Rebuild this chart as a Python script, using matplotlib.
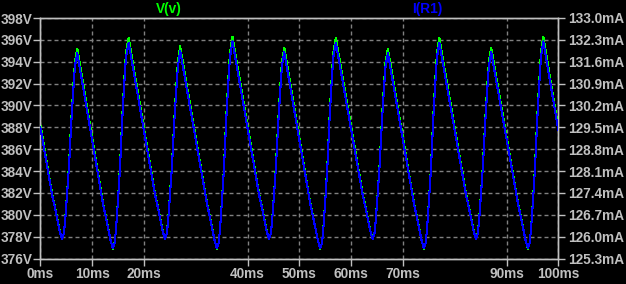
import matplotlib
matplotlib.use("Agg")
import matplotlib.pyplot as plt

# ---- data ----
time_ms = [
    0.0,
    2.29, 2.79, 3.34, 3.74, 4.19, 4.54, 4.79, 5.14, 5.54, 5.99, 6.39, 6.69, 7.14,
    12.13, 12.63, 13.18, 13.58, 14.03, 14.38, 14.63, 14.98, 15.38, 15.83, 16.23, 16.53, 17.05,
    22.17, 22.67, 23.22, 23.62, 24.07, 24.42, 24.67, 25.02, 25.42, 25.87, 26.27, 26.57, 27.0,
    32.21, 32.71, 33.26, 33.66, 34.11, 34.46, 34.71, 35.06, 35.46, 35.91, 36.31, 36.61, 37.1,
    42.25, 42.75, 43.3, 43.7, 44.15, 44.5, 44.75, 45.1, 45.5, 45.95, 46.35, 46.65, 47.1,
    52.15, 52.65, 53.2, 53.6, 54.05, 54.4, 54.65, 55.0, 55.4, 55.85, 56.25, 56.55, 57.05,
    62.25, 62.75, 63.3, 63.7, 64.15, 64.5, 64.75, 65.1, 65.5, 65.95, 66.35, 66.65, 67.1,
    72.17, 72.67, 73.22, 73.62, 74.07, 74.42, 74.67, 75.02, 75.42, 75.87, 76.27, 76.57, 77.02,
    82.2, 82.7, 83.25, 83.65, 84.1, 84.45, 84.7, 85.05, 85.45, 85.9, 86.3, 86.6, 87.05,
    92.25, 92.75, 93.3, 93.7, 94.15, 94.5, 94.75, 95.1, 95.5, 95.95, 96.35, 96.65, 97.1,
    100.0,
]

v_volts = [
    388.3,
    381.9, 380.8, 379.5, 378.55, 377.8, 378.3, 379.5, 381.8, 384.6, 388.8, 391.9, 394.0, 395.2,
    381.0, 379.9, 378.6, 377.65, 376.9, 377.5, 378.8, 381.3, 384.4, 389.1, 392.5, 394.8, 396.2,
    381.9, 380.8, 379.5, 378.55, 377.8, 378.3, 379.5, 381.8, 384.6, 388.8, 391.9, 394.0, 395.4,
    381.0, 379.9, 378.6, 377.65, 376.9, 377.5, 378.8, 381.3, 384.4, 389.1, 392.5, 394.8, 396.3,
    381.9, 380.8, 379.5, 378.55, 377.8, 378.3, 379.5, 381.8, 384.6, 388.8, 391.9, 394.0, 395.3,
    381.0, 379.9, 378.6, 377.65, 376.9, 377.5, 378.8, 381.3, 384.4, 389.1, 392.5, 394.8, 396.2,
    381.9, 380.8, 379.5, 378.55, 377.8, 378.3, 379.5, 381.8, 384.6, 388.8, 391.9, 394.0, 395.2,
    381.0, 379.9, 378.6, 377.65, 376.9, 377.5, 378.8, 381.3, 384.4, 389.1, 392.5, 394.8, 396.2,
    381.9, 380.8, 379.5, 378.55, 377.8, 378.3, 379.5, 381.8, 384.6, 388.8, 391.9, 394.0, 395.3,
    381.0, 379.9, 378.6, 377.65, 376.9, 377.5, 378.8, 381.3, 384.4, 389.1, 392.5, 394.8, 396.3,
    388.0,
]

i_ma = [
    129.51,
    127.32, 126.95, 126.50, 126.18, 125.92, 126.09, 126.50, 127.29, 128.25, 129.68, 130.74, 131.46, 131.87,
    127.02, 126.64, 126.20, 125.87, 125.62, 125.82, 126.27, 127.12, 128.18, 129.79, 130.95, 131.73, 132.21,
    127.32, 126.95, 126.50, 126.18, 125.92, 126.09, 126.50, 127.29, 128.25, 129.68, 130.74, 131.46, 131.94,
    127.02, 126.64, 126.20, 125.87, 125.62, 125.82, 126.27, 127.12, 128.18, 129.79, 130.95, 131.73, 132.25,
    127.32, 126.95, 126.50, 126.18, 125.92, 126.09, 126.50, 127.29, 128.25, 129.68, 130.74, 131.46, 131.90,
    127.02, 126.64, 126.20, 125.87, 125.62, 125.82, 126.27, 127.12, 128.18, 129.79, 130.95, 131.73, 132.21,
    127.32, 126.95, 126.50, 126.18, 125.92, 126.09, 126.50, 127.29, 128.25, 129.68, 130.74, 131.46, 131.87,
    127.02, 126.64, 126.20, 125.87, 125.62, 125.82, 126.27, 127.12, 128.18, 129.79, 130.95, 131.73, 132.21,
    127.32, 126.95, 126.50, 126.18, 125.92, 126.09, 126.50, 127.29, 128.25, 129.68, 130.74, 131.46, 131.90,
    127.02, 126.64, 126.20, 125.87, 125.62, 125.82, 126.27, 127.12, 128.18, 129.79, 130.95, 131.73, 132.25,
    129.41,
]

x_ticks = [0, 10, 20, 40, 50, 60, 70, 90, 100]
x_tick_labels = ["0ms", "10ms", "20ms", "40ms", "50ms", "60ms", "70ms", "90ms", "100ms"]
v_ticks = [376, 378, 380, 382, 384, 386, 388, 390, 392, 394, 396, 398]
v_tick_labels = ["376V", "378V", "380V", "382V", "384V", "386V", "388V", "390V",
                 "392V", "394V", "396V", "398V"]
i_ticks = [125.3, 126.0, 126.7, 127.4, 128.1, 128.8, 129.5, 130.2, 130.9, 131.6, 132.3, 133.0]
i_tick_labels = ["125.3mA", "126.0mA", "126.7mA", "127.4mA", "128.1mA", "128.8mA",
                 "129.5mA", "130.2mA", "130.9mA", "131.6mA", "132.3mA", "133.0mA"]

# ---- style ----
W, H = 626, 284
DPI = 100
FG = "#c0c0c0"
GRID = "#808080"
GREEN = "#00ff00"
BLUE = "#0000ff"
FONT = "Liberation Sans"
FS = 9.8
px = 72.0 / DPI

plt.rcParams["lines.scale_dashes"] = False

fig = plt.figure(figsize=(W / DPI, H / DPI), dpi=DPI, facecolor="black")
ax = fig.add_axes([40.3 / W, 25.5 / H, 518.0 / W, 240.5 / H])
ax.set_facecolor("black")

ax.plot(time_ms, v_volts, color=GREEN, lw=0.75, antialiased=False, zorder=3)
ax.set_xlim(0, 100)
ax.set_ylim(376, 398)

ax2 = ax.twinx()
ax2.plot(time_ms, i_ma, color=BLUE, lw=0.75, antialiased=False, zorder=3)
ax2.set_ylim(125.3, 133.0)

ax.set_xticks(x_ticks)
ax.set_xticklabels(x_tick_labels)
ax.set_yticks(v_ticks)
ax.set_yticklabels(v_tick_labels)
ax2.set_yticks(i_ticks)
ax2.set_yticklabels(i_tick_labels)

for a in (ax, ax2):
    for s in a.spines.values():
        s.set_color(FG)
        s.set_linewidth(1.0)

ax.tick_params(axis="x", colors=FG, length=7 * px, width=1.0, pad=2 * px,
               labelsize=FS)
ax.tick_params(axis="y", colors=FG, length=7 * px, width=1.0, pad=1 * px,
               labelsize=FS)
ax2.tick_params(axis="y", colors=FG, length=7 * px, width=1.0, pad=3 * px,
                labelsize=FS)
for lab in ax.get_xticklabels() + ax.get_yticklabels() + ax2.get_yticklabels():
    lab.set_fontfamily(FONT)
    lab.set_fontweight("bold")
    lab.set_color(FG)

ax.grid(True, color=GRID, lw=1.0, linestyle=(0, (4 * px, 3 * px)), zorder=1)
ax.set_axisbelow(True)

fig.text(168.5 / W, 1 - 9.5 / H, "V(v)", color=GREEN, fontsize=FS, fontweight="bold",
         family=FONT, ha="center", va="center")
fig.text(427.5 / W, 1 - 9.5 / H, "I(R1)", color=BLUE, fontsize=FS, fontweight="bold",
         family=FONT, ha="center", va="center")

fig.savefig("out.png", dpi=DPI, facecolor="black")
